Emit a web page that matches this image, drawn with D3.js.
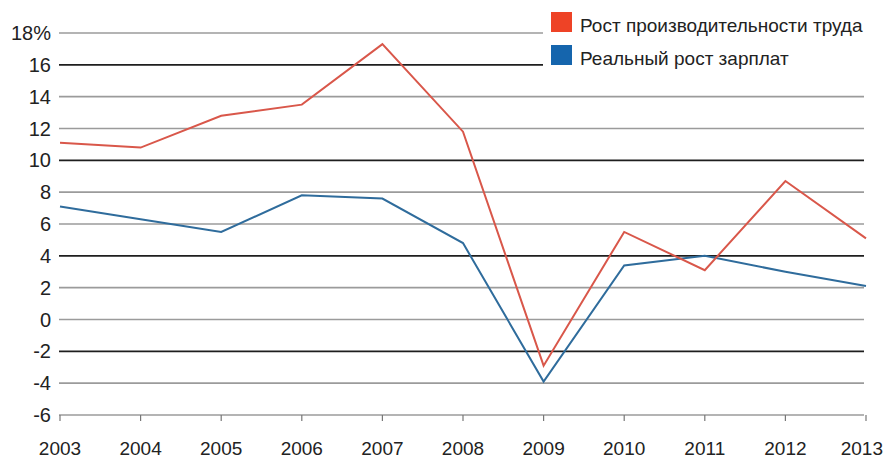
<!DOCTYPE html>
<html>
<head>
<meta charset="utf-8">
<script src="https://cdn.jsdelivr.net/npm/d3@7"></script>
<style>
  body { margin: 0; background: #fff; }
  text { font-family: "Liberation Sans Narrow", "Arial Narrow", "Liberation Sans", sans-serif; fill: #222; }
</style>
</head>
<body>
<div id="container"></div>
<script>
'use strict'
// data
const years        = [2003, 2004, 2005, 2006, 2007, 2008, 2009, 2010, 2011, 2012, 2013];
const productivity = [11.1, 10.8, 12.8, 13.5, 17.3, 11.8, -2.9, 5.5, 3.1, 8.7, 5.1];
const wages        = [7.1, 6.3, 5.5, 7.8, 7.6, 4.8, -3.9, 3.4, 4.0, 3.0, 2.1];
const yTicks       = [-6, -4, -2, 0, 2, 4, 6, 8, 10, 12, 14, 16, 18];
const darkTicks    = [-2, 4, 10, 16];
const seriesNames  = ["Рост производительности труда", "Реальный рост зарплат"];

const w = 885, h = 460;
const svg = d3.select("#container").append("svg").attr("width", w).attr("height", h);

const x = d3.scaleLinear().domain([2003, 2013]).range([60, 866]);
const y = d3.scaleLinear().domain([-6, 18]).range([415, 33]);

//Grid
svg.append("g").selectAll("line").data(yTicks).enter().append("line")
   .attr("x1", 59).attr("x2", 864)
   .attr("y1", d => y(d)).attr("y2", d => y(d))
   .attr("stroke", d => darkTicks.includes(d) ? "#1e1e1e" : "#9b9b9b")
   .attr("stroke-width", 1.6);

//Y labels
svg.append("g").selectAll("text").data(yTicks).enter().append("text")
   .attr("x", 51).attr("y", d => y(d) + 7)
   .attr("text-anchor", "end").style("font-size", "20px")
   .text(d => d === 18 ? "18%" : d);

//X ticks + labels
svg.append("g").selectAll("line").data(years).enter().append("line")
   .attr("x1", d => x(d)).attr("x2", d => x(d))
   .attr("y1", y(-6)).attr("y2", y(-6) + 6)
   .attr("stroke", "#777").attr("stroke-width", 1.2);
svg.append("g").selectAll("text").data(years).enter().append("text")
   .attr("x", (d, i) => i === years.length - 1 ? w - 2 : x(d)).attr("y", 455)
   .attr("text-anchor", (d, i) => i === years.length - 1 ? "end" : "middle")
   .style("font-size", "19px")
   .text(d => d);

//Lines
const line = d3.line().x((d, i) => x(years[i])).y(d => y(d));
svg.append("path").datum(wages).attr("d", line)
   .attr("fill", "none").attr("stroke", "#2f6c9c").attr("stroke-width", 2);
svg.append("path").datum(productivity).attr("d", line)
   .attr("fill", "none").attr("stroke", "#d9574a").attr("stroke-width", 2);

//Legend
svg.append("rect").attr("x", 543).attr("y", 0).attr("width", w - 543).attr("height", 76).attr("fill", "#fff");
const legColors = ["#ee4326", "#1565ad"];
seriesNames.forEach(function(name, i) {
  svg.append("rect").attr("x", 551).attr("y", 12 + 33 * i).attr("width", 21).attr("height", 20).attr("fill", legColors[i]);
  svg.append("text").attr("x", 580).attr("y", 32 + 33 * i).style("font-size", "19px").text(name);
});
</script>
</body>
</html>
